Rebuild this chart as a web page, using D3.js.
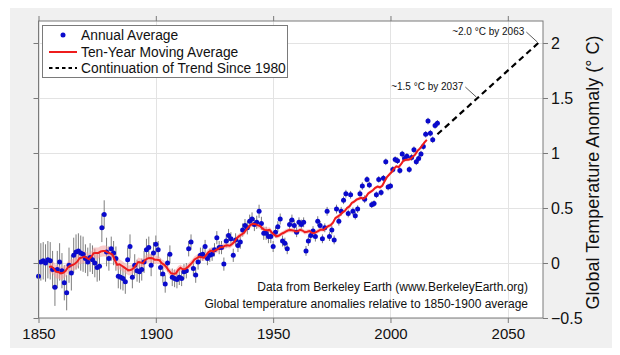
<!DOCTYPE html>
<html><head><meta charset="utf-8">
<script src="https://cdn.jsdelivr.net/npm/d3@7"></script>
<style>
body{margin:0;background:#fff}
svg{display:block}
text{font-family:"Liberation Sans",Arial,Helvetica,sans-serif}
</style>
</head><body>
<svg id="c" width="620" height="355"></svg>
<script>
// ---------------- DATA ----------------
const firstYear = 1850;
const annual = [
-0.12,0.01,0.02,0.00,0.03,0.02,-0.06,-0.22,-0.06,0.01,
-0.07,-0.18,-0.27,-0.02,-0.09,0.07,0.10,0.11,0.09,0.08,
0.04,0.01,0.05,0.03,0.00,-0.04,-0.03,0.32,0.44,0.10,
0.04,0.13,0.09,0.04,-0.12,-0.13,-0.14,-0.17,0.03,0.15,
-0.13,-0.02,-0.07,-0.08,-0.06,0.01,0.12,0.14,-0.02,0.09,
0.17,0.12,-0.04,-0.10,-0.19,0.00,0.08,-0.13,-0.14,-0.15,
-0.13,-0.14,-0.08,-0.07,0.13,0.19,-0.05,-0.11,0.01,0.07,
0.08,0.15,0.04,0.07,0.08,0.12,0.23,0.14,0.14,-0.01,
0.20,0.25,0.22,0.07,0.21,0.16,0.19,0.30,0.34,0.32,
0.38,0.40,0.35,0.37,0.47,0.36,0.27,0.27,0.24,0.24,
0.15,0.28,0.33,0.40,0.20,0.18,0.13,0.35,0.39,0.34,
0.28,0.37,0.35,0.37,0.11,0.20,0.25,0.29,0.24,0.38,
0.34,0.22,0.32,0.47,0.24,0.30,0.21,0.49,0.38,0.47,
0.57,0.63,0.45,0.62,0.47,0.43,0.49,0.63,0.70,0.58,
0.76,0.71,0.53,0.54,0.62,0.76,0.64,0.77,0.92,0.69,
0.70,0.85,0.94,0.93,0.84,0.99,0.95,0.97,0.85,0.96,
1.03,0.92,0.95,0.99,1.06,1.17,1.29,1.18,1.12,1.25,
1.27
];
// uncertainty (half-width) of annual values, per decade starting 1850
const annualUncByDecade = [0.17,0.16,0.13,0.11,0.10,0.08,0.07,0.06,0.06,0.06,0.05,0.045,0.04,0.035,0.03,0.03,0.03,0.03];

const maFirstYear = 1854.5;
const movingAvg = [
-0.037,-0.032,-0.051,-0.080,-0.082,-0.094,-0.089,-0.073,-0.040,-0.025,
-0.018,-0.007,0.012,0.044,0.049,0.058,0.047,0.034,0.055,0.090,
0.092,0.092,0.104,0.108,0.109,0.097,0.088,0.077,0.028,-0.016,
-0.011,-0.025,-0.040,-0.056,-0.068,-0.062,-0.048,-0.022,0.009,0.004,
-0.002,0.028,0.042,0.045,0.043,0.030,0.029,0.025,-0.002,-0.014,
-0.038,-0.068,-0.094,-0.098,-0.095,-0.063,-0.044,-0.057,-0.055,-0.040,
-0.018,0.003,0.032,0.044,0.058,0.053,0.046,0.074,0.099,0.112,
0.104,0.116,0.126,0.144,0.144,0.157,0.161,0.157,0.173,0.193,
0.226,0.244,0.259,0.272,0.302,0.328,0.348,0.356,0.353,0.343,
0.335,0.312,0.300,0.298,0.301,0.274,0.256,0.242,0.250,0.265,
0.275,0.288,0.297,0.299,0.296,0.287,0.289,0.301,0.295,0.280,
0.284,0.290,0.275,0.272,0.282,0.295,0.305,0.301,0.321,0.335,
0.344,0.367,0.408,0.421,0.436,0.459,0.472,0.500,0.514,0.546,
0.557,0.576,0.584,0.592,0.584,0.599,0.632,0.647,0.661,0.683,
0.694,0.688,0.702,0.743,0.782,0.804,0.827,0.858,0.878,0.871,
0.898,0.931,0.938,0.939,0.945,0.967,0.985,1.019,1.040,1.067,
1.096,1.120
];
const maUncByDecade = [0.06,0.055,0.05,0.045,0.04,0.035,0.03,0.028,0.025,0.025,0.02,0.02,0.018,0.016,0.015,0.015,0.015,0.015];

const trendYears = [2020, 2063];
const trendValues = [1.17, 2.0];

const xTicks = [1850, 1900, 1950, 2000, 2050];
const yTicks = [-0.5, 0, 0.5, 1, 1.5, 2];
const legendLabels = ["Annual Average", "Ten-Year Moving Average", "Continuation of Trend Since 1980"];
const annotations = [
  {year: 2037, value: 1.5, text: "~1.5 \u00B0C by 2037"},
  {year: 2063, value: 2.0, text: "~2.0 \u00B0C by 2063"}
];
const notes = ["Data from Berkeley Earth (www.BerkeleyEarth.org)",
               "Global temperature anomalies relative to 1850-1900 average"];
const yLabel = "Global Temperature Anomaly (\u00B0 C)";

// ---------------- CHART ----------------
const svg = d3.select("#c");
const L = 38.5, R = 543, T = 21, B = 318;
const x = d3.scaleLinear([1850, 2065], [L, R]);
const y = d3.scaleLinear([-0.5, 2.2], [B, T]);

// gray figure background
svg.append("rect").attr("x", 10).attr("y", 8).attr("width", 602).attr("height", 340).attr("fill", "#f0f0f0");
svg.append("rect").attr("x", L).attr("y", T).attr("width", R - L).attr("height", B - T).attr("fill", "#fff");

// grid
const grid = svg.append("g").attr("stroke", "#e3e3e3").attr("stroke-width", 1);
grid.selectAll(".gx").data(xTicks).join("line")
  .attr("x1", d => Math.round(x(d)) + 0.5).attr("x2", d => Math.round(x(d)) + 0.5)
  .attr("y1", T).attr("y2", B);
grid.selectAll(".gy").data(yTicks).join("line")
  .attr("y1", d => Math.round(y(d)) + 0.5).attr("y2", d => Math.round(y(d)) + 0.5)
  .attr("x1", L).attr("x2", R);

const annualData = annual.map((v, i) => ({year: firstYear + i, v, u: annualUncByDecade[Math.floor(i / 10)]}));
const maData = movingAvg.map((v, i) => {
  const yr = maFirstYear + i;
  return {year: yr, v, u: maUncByDecade[Math.floor((yr - 1850) / 10)]};
});

// error bars
svg.append("g").attr("stroke", "#7d7d7d").attr("stroke-width", 1)
  .selectAll("line").data(annualData).join("line")
  .attr("x1", d => x(d.year)).attr("x2", d => x(d.year))
  .attr("y1", d => y(d.v - d.u)).attr("y2", d => y(d.v + d.u));

// MA band
svg.append("path").datum(maData)
  .attr("fill", "#f4a0a0").attr("fill-opacity", 0.55)
  .attr("d", d3.area().x(d => x(d.year)).y0(d => y(d.v - d.u)).y1(d => y(d.v + d.u)));

// dots
svg.append("g").attr("fill", "#0a0acc")
  .selectAll("circle").data(annualData).join("circle")
  .attr("cx", d => x(d.year)).attr("cy", d => y(d.v)).attr("r", 2.5);

// MA line
svg.append("path").datum(maData)
  .attr("fill", "none").attr("stroke", "#ee1c1c").attr("stroke-width", 2)
  .attr("d", d3.line().x(d => x(d.year)).y(d => y(d.v)));

// trend
svg.append("path").datum(trendYears.map((yr, i) => ({year: yr, v: trendValues[i]})))
  .attr("fill", "none").attr("stroke", "#000").attr("stroke-width", 2.2)
  .attr("stroke-dasharray", "6,4")
  .attr("d", d3.line().x(d => x(d.year)).y(d => y(d.v)));

// annotations
annotations.forEach(a => {
  const px = x(a.year), py = y(a.value);
  svg.append("line").attr("x1", px - 12).attr("y1", py - 11).attr("x2", px - 1).attr("y2", py - 1)
    .attr("stroke", "#333").attr("stroke-width", 0.8);
  svg.append("text").attr("x", px - 14).attr("y", py - 8).attr("text-anchor", "end")
    .attr("font-size", 10).attr("fill", "#111").text(a.text);
});

// frame
svg.append("rect").attr("x", L).attr("y", T).attr("width", R - L).attr("height", B - T)
  .attr("fill", "none").attr("stroke", "#7a7a7a").attr("stroke-width", 1);

// axes
function styleAxis(g) {
  g.select(".domain").remove();
  g.selectAll(".tick line").attr("stroke", "#7a7a7a");
  g.selectAll(".tick text").attr("fill", "#111").style("font-family", '"Liberation Sans",Arial,sans-serif');
}
svg.append("g").attr("transform", `translate(0,${B})`)
  .call(d3.axisBottom(x).tickValues(xTicks).tickSize(5).tickPadding(5).tickFormat(d3.format("d")))
  .call(styleAxis).call(g => g.selectAll(".tick text").attr("font-size", 15));
svg.append("g").attr("transform", `translate(0,${T})`)
  .call(d3.axisTop(x).tickValues(xTicks).tickSize(5).tickFormat(""))
  .call(styleAxis);
svg.append("g").attr("transform", `translate(${L},0)`)
  .call(d3.axisLeft(y).tickValues(yTicks).tickSize(5).tickFormat(""))
  .call(styleAxis);
svg.append("g").attr("transform", `translate(${R},0)`)
  .call(d3.axisRight(y).tickValues(yTicks).tickSize(5).tickPadding(3).tickFormat(d => d3.format("")(d)))
  .call(styleAxis).call(g => g.selectAll(".tick text").attr("font-size", 16));

// y label
svg.append("text").attr("transform", `translate(599,172.5) rotate(-90)`)
  .attr("text-anchor", "middle").attr("font-size", 18).attr("fill", "#111").text(yLabel);

// notes
notes.forEach((t, i) => {
  svg.append("text").attr("x", 528).attr("y", 291 + i * 17).attr("text-anchor", "end")
    .attr("font-size", 12).attr("fill", "#111").text(t);
});

// legend
const lg = svg.append("g");
lg.append("rect").attr("x", 42.5).attr("y", 25.5).attr("width", 245).attr("height", 52)
  .attr("fill", "#fff").attr("stroke", "#7a7a7a");
const rowY = [35, 52, 68];
lg.append("circle").attr("cx", 63).attr("cy", rowY[0]).attr("r", 2.5).attr("fill", "#0a0acc");
lg.append("line").attr("x1", 49).attr("x2", 77).attr("y1", rowY[1]).attr("y2", rowY[1])
  .attr("stroke", "#ee1c1c").attr("stroke-width", 2);
lg.append("line").attr("x1", 49).attr("x2", 77).attr("y1", rowY[2]).attr("y2", rowY[2])
  .attr("stroke", "#000").attr("stroke-width", 2).attr("stroke-dasharray", "3.5,3");
legendLabels.forEach((t, i) => {
  lg.append("text").attr("x", 81).attr("y", rowY[i] + 5).attr("font-size", 13.8)
    .attr("fill", "#111").text(t);
});
</script>
</body></html>
